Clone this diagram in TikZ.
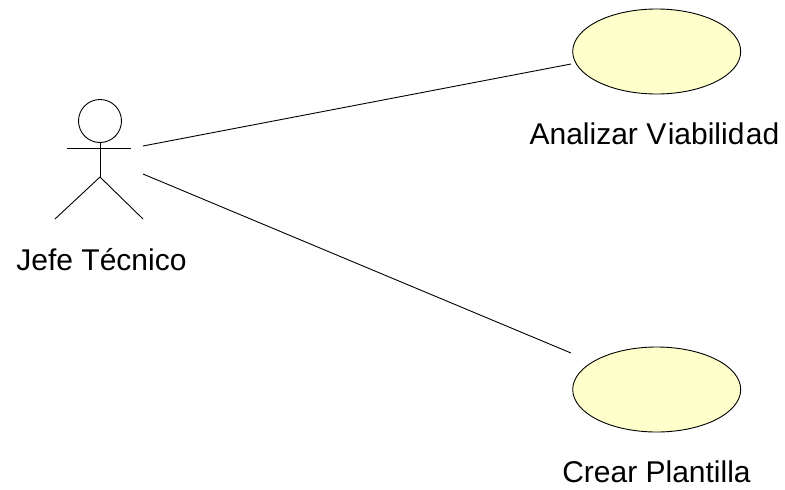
\documentclass[tikz,border=0pt]{standalone}
\usepackage{fontspec}
\setmainfont{Liberation Sans}
\usetikzlibrary{shapes.geometric}
\definecolor{usefill}{HTML}{FFFFCC}
\tikzset{
  x=1pt,y=-1pt,
  usecase/.style={ellipse,draw=black,fill=usefill,line width=0.9pt,minimum width=168pt,minimum height=85pt,inner sep=0pt},
  lbl/.style={font=\fontsize{30}{34}\selectfont,text=black,inner sep=0pt,anchor=base},
  link/.style={draw=black,line width=0.9pt},
  stick/.style={draw=black,line width=0.9pt}
}
\begin{document}
\begin{tikzpicture}
\useasboundingbox (0,0) rectangle (785,490);
\fill[white] (0,0) rectangle (785,490);
\node[usecase] (u1) at (656.7,51.5) {};
\node[usecase] (u2) at (656.7,389.5) {};
\node[circle,draw=black,line width=0.9pt,minimum size=43pt,inner sep=0pt] (head) at (100,121) {};
\coordinate (hip) at (100,177);
\coordinate (armL) at (67,148.5);
\coordinate (armR) at (131,148.5);
\coordinate (footL) at (55,219);
\coordinate (footR) at (143,219);
\draw[stick] (head.south) -- (hip);
\draw[stick] (armL) -- (armR);
\draw[stick] (footL) -- (hip) -- (footR);
\coordinate (a1) at (143,146);
\coordinate (a2) at (143,174);
\coordinate (e1) at (571,64);
\coordinate (e2) at (571,353);
\draw[link] (a1) -- (e1);
\draw[link] (a2) -- (e2);
\node[lbl] (t0) at (101.5,270.5) {Jefe Técnico};
\node[lbl] (t1) at (654.5,144.5) {Analizar V\kern1.5pt iabilid\kern1.5pt ad};
\node[lbl] (t2) at (656.5,482.5) {Crear Plantilla};
\end{tikzpicture}
\end{document}
